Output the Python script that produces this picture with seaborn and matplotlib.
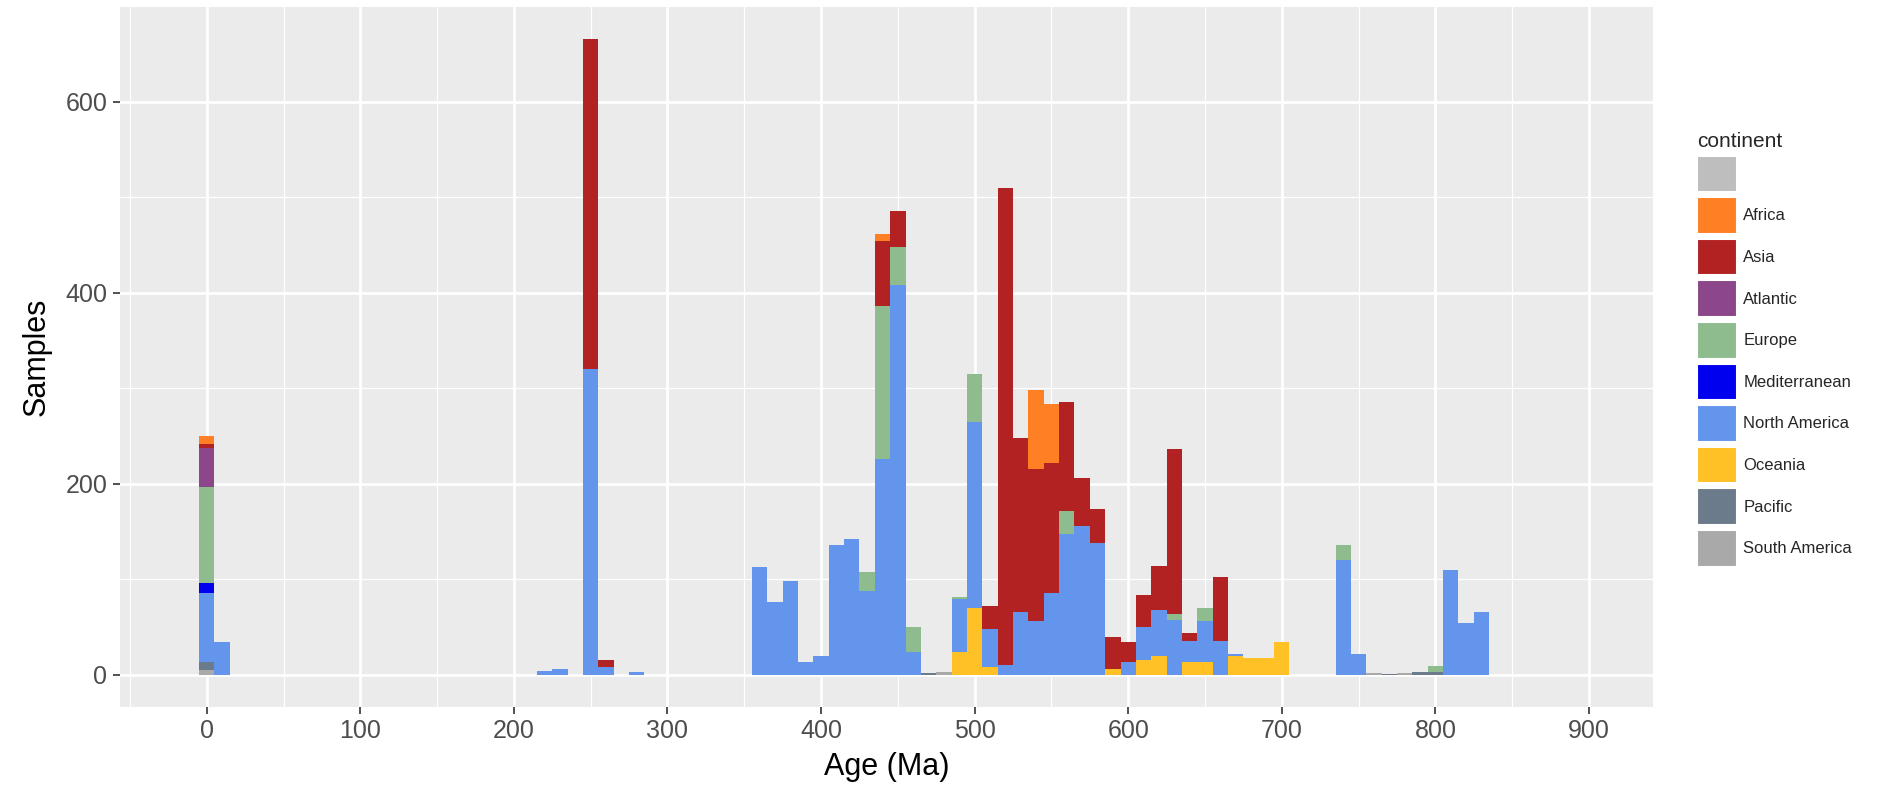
import seaborn as sns
import matplotlib.pyplot as plt
import matplotlib.patches as mpatches
from matplotlib.ticker import MultipleLocator
import pandas as pd

# continent levels in legend order (first level ends up on top of the stack)
continents = ["", "Africa", "Asia", "Atlantic", "Europe", "Mediterranean",
              "North America", "Oceania", "Pacific", "South America"]
colors = ["#BEBEBE", "#FF7F24", "#B22222", "#8B4789", "#8FBC8F", "#0000EE",
          "#6495ED", "#FFC125", "#6C7B8B", "#A9A9A9"]

# samples per 10 Ma bin (bin centre ages)
namerica_age = [0, 10, 220, 230, 250, 260, 280, 360, 370, 380, 390, 400, 410, 420,
                430, 440, 450, 460, 490, 500, 510, 520, 530, 540, 550, 560, 570,
                580, 600, 610, 620, 630, 640, 650, 660, 670, 740, 750, 810, 820, 830]
namerica_n = [73, 34, 4, 6, 320, 8, 3, 113, 76, 98, 14, 20, 136, 142,
              88, 226, 408, 24, 56, 195, 40, 10, 66, 56, 86, 148, 156,
              138, 14, 34, 48, 58, 22, 42, 36, 2, 120, 22, 110, 54, 66]

europe_age = [0, 430, 440, 450, 460, 490, 500, 560, 630, 650, 740, 800]
europe_n = [101, 20, 160, 40, 26, 2, 50, 24, 6, 14, 16, 6]

asia_age = [0, 250, 260, 440, 450, 510, 520, 530, 540, 550, 560, 570, 580,
            590, 600, 610, 620, 630, 640, 660]
asia_n = [4, 346, 8, 68, 38, 24, 500, 182, 160, 136, 114, 50, 36,
          34, 20, 34, 46, 172, 8, 66]

africa_age = [0, 440, 540, 550]
africa_n = [8, 8, 82, 62]

atlantic_age = [0]
atlantic_n = [41]

med_age = [0]
med_n = [10]

oceania_age = [490, 500, 510, 590, 610, 620, 640, 650, 670, 680, 690, 700]
oceania_n = [24, 70, 8, 6, 16, 20, 14, 14, 20, 18, 18, 34]

pacific_age = [0, 470, 770, 790, 800]
pacific_n = [8, 2, 1, 3, 3]

samerica_age = [0, 480, 760, 780]
samerica_n = [5, 3, 2, 2]


def build_frame():
    parts = [("North America", namerica_age, namerica_n),
             ("Europe", europe_age, europe_n),
             ("Asia", asia_age, asia_n),
             ("Africa", africa_age, africa_n),
             ("Atlantic", atlantic_age, atlantic_n),
             ("Mediterranean", med_age, med_n),
             ("Oceania", oceania_age, oceania_n),
             ("Pacific", pacific_age, pacific_n),
             ("South America", samerica_age, samerica_n)]
    rows = []
    for name, ages, counts in parts:
        for a, n in zip(ages, counts):
            rows.append({"age": a, "continent": name, "n": n})
    return pd.DataFrame(rows)


def main():
    df = build_frame()
    sns.set_theme(style="darkgrid", rc={
        "axes.facecolor": "#EBEBEB",
        "grid.color": "white",
        "grid.linewidth": 2.0,
    })
    plt.rcParams["font.family"] = ["Liberation Sans", "DejaVu Sans"]

    fig = plt.figure(figsize=(18.95, 7.93), dpi=100)
    ax = fig.add_axes([0.0633, 0.1088, 0.809, 0.8824])

    used = continents[1:]
    sns.histplot(data=df, x="age", weights="n", hue="continent",
                 hue_order=used, palette=dict(zip(continents, colors)),
                 multiple="stack", binwidth=10, binrange=(-5, 835),
                 alpha=1, linewidth=0, edgecolor="none", legend=False, ax=ax)

    ax.set_xlim(-56.5, 941.7)
    ax.set_ylim(-33.3, 699.3)
    ax.xaxis.set_major_locator(MultipleLocator(100))
    ax.xaxis.set_minor_locator(MultipleLocator(50))
    ax.yaxis.set_major_locator(MultipleLocator(200))
    ax.yaxis.set_minor_locator(MultipleLocator(100))
    ax.grid(which="major", color="white", linewidth=2.0)
    ax.grid(which="minor", color="white", linewidth=0.9)
    ax.set_axisbelow(True)
    for s in ax.spines.values():
        s.set_visible(False)
    ax.tick_params(axis="both", which="major", length=5, width=1.2,
                   color="#333333", labelsize=18, labelcolor="#4D4D4D",
                   bottom=True, left=True, pad=4)
    ax.tick_params(which="minor", length=0)

    ax.set_xlabel("Age (Ma)", fontsize=22, color="black", labelpad=6)
    ax.set_ylabel("Samples", fontsize=22, color="black", labelpad=10)

    # ggplot-like legend to the right of the panel
    handles = [mpatches.Patch(facecolor=c, edgecolor="white", linewidth=1.5)
               for c in colors]
    leg = fig.legend(handles, continents, loc="upper left",
                     bbox_to_anchor=(1690 / 1895, 1 - 125 / 793),
                     frameon=False, title="continent", fontsize=12,
                     title_fontsize=15, handlelength=2.4, handleheight=3.0,
                     labelspacing=0.3, handletextpad=0.4, borderaxespad=0)
    leg._legend_box.align = "left"

    plt.savefig("out.png", dpi=100)


if __name__ == "__main__":
    main()
